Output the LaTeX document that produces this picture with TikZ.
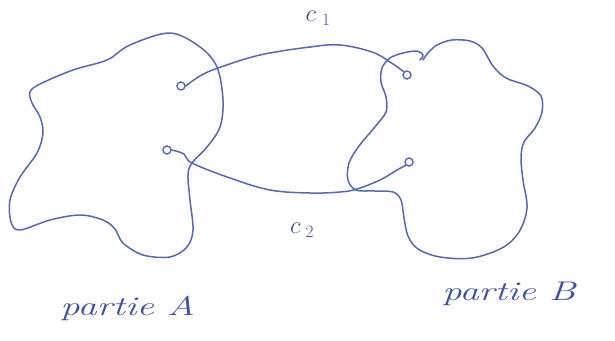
\documentclass[tikz,border=0pt]{standalone}
\usetikzlibrary{calc}
\definecolor{ink}{RGB}{84,104,186}
\definecolor{inkdark}{RGB}{60,80,170}
\tikzset{
  stroke/.style={draw=ink, line width=1.5pt, line cap=round, line join=round},
  port/.style={circle, draw=ink, line width=1.4pt, minimum size=8pt, inner sep=0pt},
  lbl/.style={text=inkdark, font=\fontsize{24}{28}\selectfont, inner sep=0pt},
  partlbl/.style={text=inkdark, font=\fontsize{27}{31}\selectfont\itshape, inner sep=0pt, xscale=1.42, anchor=base west}
}
\begin{document}
\begin{tikzpicture}[x=1pt,y=-1pt]
\useasboundingbox (0,0) rectangle (615,340);
% partie A outline
\draw[stroke] plot[smooth cycle, tension=0.55] coordinates {
 (170,33) (200,47) (217,67) (223,100) (220,127) (207,147) (192,163) (188,175)
 (190,200) (193,230) (187,247) (170,257) (143,255) (123,243) (115,229) (103,220)
 (80,215) (50,220) (20,230) (11,222) (10,200) (20,177) (37,153) (43,133)
 (40,117) (32,103) (30,92) (40,84) (73,70) (107,60) (130,45)};
% partie B outline
\draw[stroke] plot[smooth, tension=0.55] coordinates {
 (420,60) (423,55) (417,51) (403,53) (390,58) (382,68) (381,82) (386,97)
 (386,112) (374,128) (359,146) (349,163) (348,180) (356,190) (375,191) (393,192)
 (401,200) (404,218) (408,236) (418,249) (440,257) (472,258) (502,248) (519,232)
 (527,208) (523,180) (521,158) (524,142) (535,128) (542,112) (541,96) (528,86)
 (506,78) (493,66) (482,48) (470,41) (452,40) (437,45) (428,53) (423,60)};
% ports
\node[port] (A1) at (181,86) {};
\node[port] (A2) at (167,150) {};
\node[port] (B1) at (407,75) {};
\node[port] (B2) at (409,162) {};
% connectors
\draw[stroke] plot[smooth, tension=0.6] coordinates {
 (A1.east) (200,76) (218,68) (260,55) (310,47) (340,45) (372,52) (390,62) (B1.north west)};
\draw[stroke] plot[smooth, tension=0.6] coordinates {
 (A2.east) (184,154) (192,163) (230,178) (270,190) (310,193) (340,192) (357,189) (380,180) (397,170) (B2.south west)};
% labels
\node[lbl] (c1) at (318,18) {$c_{\hspace{6pt}1}$};
\node[lbl, font=\fontsize{26}{30}\selectfont] (c2) at (302,230) {$c_{\hspace{5pt}2}$};
\node[partlbl] (pA) at (60,315) {partie A};
\node[partlbl] (pB) at (442,300) {partie B};
\end{tikzpicture}
\end{document}
